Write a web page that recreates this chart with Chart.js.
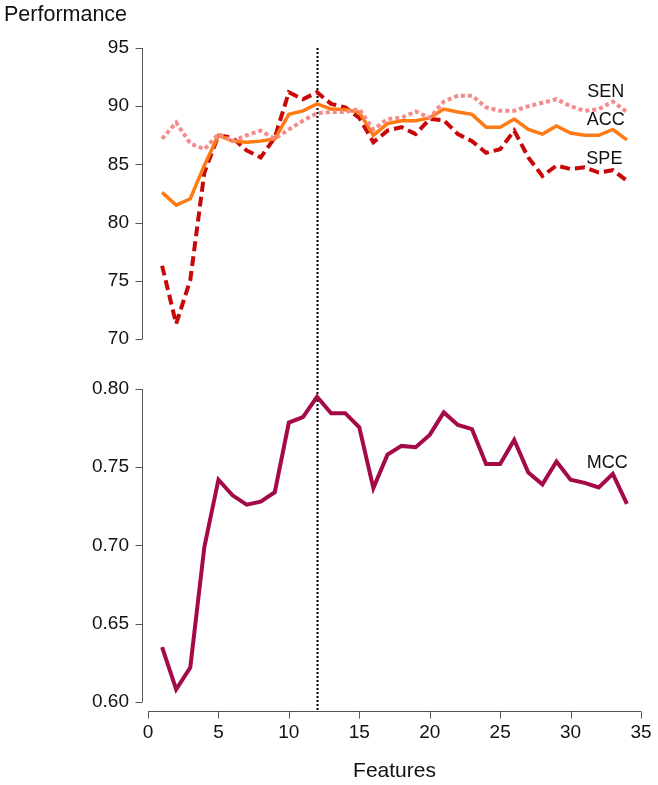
<!DOCTYPE html>
<html>
<head>
<meta charset="utf-8">
<title>Performance vs Features</title>
<script src="https://cdn.jsdelivr.net/npm/chart.js@4.4.1/dist/chart.umd.min.js"></script>
<style>
  body { margin: 0; background: #fff; }
  #wrap { width: 658px; height: 785px; }
</style>
</head>
<body>
<div id="wrap"><canvas id="perfChart" width="658" height="785"></canvas></div>
<script>
// number of features on the x axis
const features = [1, 2, 3, 4, 5, 6, 7, 8, 9, 10, 11, 12, 13, 14, 15, 16, 17,
                  18, 19, 20, 21, 22, 23, 24, 25, 26, 27, 28, 29, 30, 31, 32, 33, 34];

// top panel (percent)
const sen = [87.2, 88.6, 86.8, 86.3, 87.6, 87.0, 87.5, 87.9, 87.2, 88.0, 88.75, 89.4, 89.5, 89.5, 89.75, 88.0, 88.9,
             89.0, 89.55, 89.0, 90.4, 90.9, 90.9, 89.9, 89.6, 89.6, 90.0, 90.3, 90.6, 90.0, 89.6, 89.75, 90.4, 89.5];
const acc = [82.6, 81.5, 82.05, 84.9, 87.5, 87.0, 86.9, 87.0, 87.2, 89.3, 89.6, 90.2, 89.75, 89.7, 89.5, 87.5, 88.5,
             88.75, 88.75, 89.0, 89.75, 89.5, 89.3, 88.2, 88.2, 88.9, 88.0, 87.6, 88.3, 87.7, 87.5, 87.5, 88.0, 87.1];
const spe = [76.3, 71.3, 75.05, 84.3, 87.5, 87.3, 86.2, 85.6, 87.3, 91.2, 90.6, 91.2, 90.2, 89.9, 89.0, 86.9, 87.9,
             88.2, 87.6, 88.9, 88.8, 87.6, 87.0, 86.0, 86.3, 87.9, 85.6, 84.0, 84.9, 84.6, 84.75, 84.3, 84.5, 83.6];

// bottom panel
const mcc = [0.635, 0.608, 0.622, 0.699, 0.742, 0.732, 0.726, 0.728, 0.734, 0.7785, 0.782, 0.795, 0.7845, 0.7845, 0.7755, 0.7366, 0.758,
             0.7636, 0.7628, 0.7706, 0.785, 0.777, 0.7743, 0.752, 0.752, 0.7674, 0.7466, 0.739, 0.7536, 0.742, 0.740, 0.737, 0.7457, 0.7266];

const xTicks = [0, 5, 10, 15, 20, 25, 30, 35];
const topTicks = [70, 75, 80, 85, 90, 95];
const bottomTicks = [0.60, 0.65, 0.70, 0.75, 0.80];
const bestFeatures = 12;

document.addEventListener('DOMContentLoaded', () => {
    Chart.defaults.font.family = "'Liberation Sans', Arial, Helvetica, sans-serif";
    Chart.defaults.color = '#111';

    const pts = (vals) => features.map((f, i) => ({ x: f, y: vals[i] }));
    const axisColor = '#555';

    // R style detached axes, the dotted marker line and the series names
    const rAxes = {
        id: 'rAxes',
        beforeDatasetsDraw(chart) {
            const { ctx, chartArea, scales } = chart;
            const x = Math.round(scales.x.getPixelForValue(bestFeatures)) + 0.5;
            ctx.save();
            ctx.strokeStyle = '#000';
            ctx.lineWidth = 2;
            ctx.setLineDash([2, 2]);
            ctx.beginPath();
            ctx.moveTo(x, scales.yT.getPixelForValue(topTicks[topTicks.length - 1]));
            ctx.lineTo(x, chartArea.bottom);
            ctx.stroke();
            ctx.restore();
        },
        afterDraw(chart) {
            const { ctx, chartArea, scales } = chart;
            const ax = Math.round(chartArea.left - 6) + 0.5;
            ctx.save();
            ctx.strokeStyle = axisColor;
            ctx.lineWidth = 1;

            [['yT', topTicks], ['yB', bottomTicks]].forEach(([id, ticks]) => {
                const s = scales[id];
                ctx.beginPath();
                ctx.moveTo(ax, s.getPixelForValue(ticks[0]));
                ctx.lineTo(ax, s.getPixelForValue(ticks[ticks.length - 1]));
                ticks.forEach((t) => {
                    const y = Math.round(s.getPixelForValue(t)) + 0.5;
                    ctx.moveTo(ax - 7, y);
                    ctx.lineTo(ax, y);
                });
                ctx.stroke();
            });

            const ay = Math.round(chartArea.bottom) + 0.5;
            ctx.beginPath();
            ctx.moveTo(scales.x.getPixelForValue(xTicks[0]), ay);
            ctx.lineTo(scales.x.getPixelForValue(xTicks[xTicks.length - 1]), ay);
            xTicks.forEach((t) => {
                const x = Math.round(scales.x.getPixelForValue(t)) + 0.5;
                ctx.moveTo(x, ay);
                ctx.lineTo(x, ay + 7);
            });
            ctx.stroke();

            // series names next to the line ends
            ctx.fillStyle = '#111';
            ctx.font = "18px 'Liberation Sans', Arial, sans-serif";
            ctx.textAlign = 'center';
            ctx.textBaseline = 'middle';
            const names = [
                ['SEN', 32.5, 91.2, 'yT'],
                ['ACC', 32.5, 88.8, 'yT'],
                ['SPE', 32.4, 85.5, 'yT'],
                ['MCC', 32.6, 0.7527, 'yB']
            ];
            names.forEach(([txt, xv, yv, id]) => {
                ctx.fillText(txt, scales.x.getPixelForValue(xv), scales[id].getPixelForValue(yv));
            });
            ctx.restore();
        }
    };

    const fixTicks = (list) => (scale) => {
        scale.ticks = list.map((v) => ({ value: v }));
    };

    const ctx = document.getElementById('perfChart').getContext('2d');
    new Chart(ctx, {
        type: 'line',
        data: {
            datasets: [
                { label: 'SEN', data: pts(sen), yAxisID: 'yT', borderColor: '#F58B8C', borderWidth: 4,
                  borderDash: [4, 3], pointRadius: 0, fill: false },
                { label: 'ACC', data: pts(acc), yAxisID: 'yT', borderColor: '#FF7A12', borderWidth: 3.5,
                  pointRadius: 0, fill: false },
                { label: 'SPE', data: pts(spe), yAxisID: 'yT', borderColor: '#C80808', borderWidth: 4,
                  borderDash: [10, 5], pointRadius: 0, fill: false },
                { label: 'MCC', data: pts(mcc), yAxisID: 'yB', borderColor: '#A50A48', borderWidth: 4,
                  pointRadius: 0, fill: false }
            ]
        },
        options: {
            responsive: false,
            animation: false,
            layout: { padding: { left: 4, right: 17, top: 0, bottom: 0 } },
            plugins: {
                legend: { display: false },
                tooltip: { enabled: false },
                title: {
                    display: true,
                    text: 'Performance',
                    align: 'start',
                    color: '#111',
                    font: { size: 21.5, weight: 'normal' },
                    padding: { top: 2.2, bottom: 20 }
                }
            },
            scales: {
                x: {
                    type: 'linear',
                    min: 0,
                    max: 35,
                    afterBuildTicks: fixTicks(xTicks),
                    afterFit: (scale) => { scale.height = 74; },
                    grid: { display: false, drawTicks: false },
                    border: { display: false },
                    ticks: { font: { size: 19, lineHeight: 2.32 }, padding: 0, maxRotation: 0, color: '#111' },
                    title: { display: true, text: 'Features', font: { size: 21 }, color: '#111',
                             padding: { top: 2, bottom: 1 } }
                },
                yB: {
                    type: 'linear',
                    position: 'left',
                    stack: 'panels',
                    stackWeight: 372,
                    min: 0.5942,
                    max: 0.8319,
                    afterBuildTicks: fixTicks(bottomTicks),
                    afterFit: (scale) => { scale.width = 144; },
                    grid: { display: false, drawTicks: false },
                    border: { display: false },
                    ticks: { font: { size: 19 }, padding: 19, color: '#111',
                             callback: (v) => Number(v).toFixed(2) }
                },
                yT: {
                    type: 'linear',
                    position: 'left',
                    stack: 'panels',
                    stackWeight: 291,
                    min: 70,
                    max: 95,
                    afterBuildTicks: fixTicks(topTicks),
                    afterFit: (scale) => { scale.width = 144; },
                    grid: { display: false, drawTicks: false },
                    border: { display: false },
                    ticks: { font: { size: 19 }, padding: 19, color: '#111' }
                }
            }
        },
        plugins: [rAxes]
    });
});
</script>
</body>
</html>
